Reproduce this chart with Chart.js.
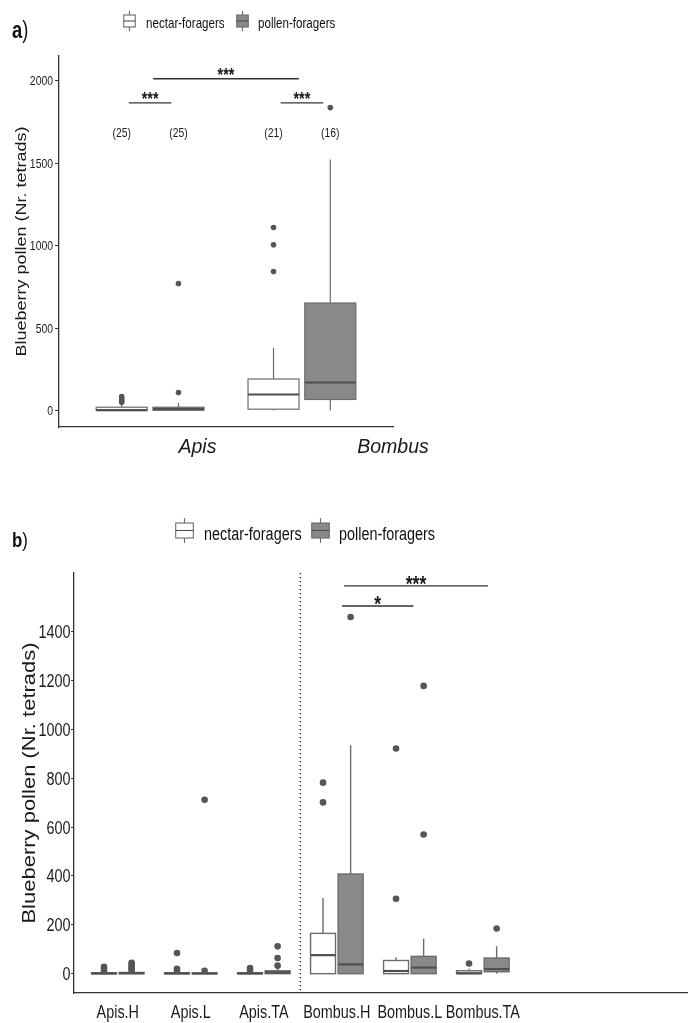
<!DOCTYPE html>
<html>
<head>
<meta charset="utf-8">
<script src="https://cdn.jsdelivr.net/npm/chart.js@4.4.1/dist/chart.umd.min.js"></script>
<style>
  body { margin: 0; background: #fff; width: 688px; height: 1023px; overflow: hidden; position: relative; }
  canvas { display: block; position: absolute; left: 0; }
</style>
</head>
<body>
<canvas id="chartA" width="688" height="470" style="top:0"></canvas>
<canvas id="chartB" width="688" height="553" style="top:470px"></canvas>
<script>
const SANS = "'Liberation Sans', Arial, Helvetica, sans-serif";
const SQUEEZE = 0.8; // the original's text is horizontally condensed

// ---- panel a data: [whisker low, q1, median, q3, whisker high]
const groupsA = ['Apis', 'Bombus'];
const nectarBoxA = [[0, 0, 2, 20, 38], [0, 8, 97, 191, 379]];
const pollenBoxA = [[0, 2, 8, 20, 45], [0, 67, 170, 652, 1523]];
const nectarOutA = [[50, 60, 72, 85], [843, 1005, 1110]];
const pollenOutA = [[109, 770], [1837]];
const countsA = ['(25)', '(25)', '(21)', '(16)'];
const countLevelA = 1680;
const yTicksA = [0, 500, 1000, 1500, 2000];
const bracketFromA = [0.86, 1.02, 1.86];
const bracketToA = [1.14, 1.98, 2.14];
const bracketLevelA = [1866, 2012, 1866];
const bracketTextA = ['***', '***', '***'];

// ---- panel b data
const groupsB = ['Apis.H', 'Apis.L', 'Apis.TA', 'Bombus.H', 'Bombus.L', 'Bombus.TA'];
const nectarBoxB = [
  [0, 0, 1, 4, 8],
  [0, 0, 1, 4, 8],
  [0, 0, 1, 4, 8],
  [0, 0, 76, 165, 310],
  [0, 0, 11, 54, 67],
  [0, 0, 2, 12, 20]
];
const pollenBoxB = [
  [0, 0, 2, 5, 10],
  [0, 0, 1, 3, 6],
  [0, 0, 5, 12, 25],
  [0, 0, 38, 408, 935],
  [0, 0, 25, 71, 143],
  [0, 8, 19, 64, 112]
];
const nectarOutB = [[12, 20, 28], [12, 20, 85], [15, 23], [701, 782], [307, 922], [42]];
const pollenOutB = [[12, 20, 28, 36, 45], [12, 712], [33, 64, 112], [1460], [570, 1178], [185]];
const yTicksB = [0, 200, 400, 600, 800, 1000, 1200, 1400];
const bracketFromB = [4.07, 4.10];
const bracketToB = [5.05, 6.07];
const bracketLevelB = [1505, 1587];
const bracketTextB = ['*', '***'];

const YTITLE = 'Blueberry pollen (Nr. tetrads)';
const LINE = '#6b6b6b';
const MEDIAN = '#4f4f4f';
const POINT = '#555555';
const POLLEN_FILL = '#898989';
const AXIS = '#333333';

function outlierPoints(outs, off) {
  return outs.flatMap((vals, i) => vals.map(v => ({ x: i + 1 + off, y: v })));
}

// text drawn with a horizontal squeeze, like the condensed labels of the original
function squeezed(ctx, text, x, y, sx, align) {
  ctx.save();
  ctx.translate(x, y);
  ctx.scale(sx, 1);
  ctx.textAlign = align;
  ctx.fillText(text, 0, 0);
  ctx.restore();
}

function boxPlugin(nectar, pollen, dodge, width, lw) {
  return {
    id: 'boxes',
    beforeDatasetsDraw(chart) {
      const { ctx, scales: { x, y } } = chart;
      const half = (x.getPixelForValue(width) - x.getPixelForValue(0)) / 2;
      ctx.save();
      [[nectar, -dodge, '#ffffff'], [pollen, dodge, POLLEN_FILL]].forEach(([boxes, off, fill]) => {
        boxes.forEach((b, i) => {
          const cx = x.getPixelForValue(i + 1 + off);
          const [lo, q1, med, q3, hi] = b.map(v => y.getPixelForValue(v));
          ctx.strokeStyle = LINE;
          ctx.lineWidth = lw;
          ctx.beginPath();
          ctx.moveTo(cx, hi); ctx.lineTo(cx, q3);
          ctx.moveTo(cx, q1); ctx.lineTo(cx, lo);
          ctx.stroke();
          ctx.fillStyle = fill;
          ctx.fillRect(cx - half, q3, 2 * half, q1 - q3);
          ctx.strokeRect(cx - half, q3, 2 * half, q1 - q3);
          ctx.strokeStyle = MEDIAN;
          ctx.lineWidth = 2.2;
          ctx.beginPath();
          ctx.moveTo(cx - half, med); ctx.lineTo(cx + half, med);
          ctx.stroke();
        });
      });
      ctx.restore();
    }
  };
}

function bracketPlugin(from, to, level, text, size, lift) {
  return {
    id: 'brackets',
    afterDatasetsDraw(chart) {
      const { ctx, scales: { x, y } } = chart;
      ctx.save();
      ctx.strokeStyle = AXIS;
      ctx.lineWidth = 1.3;
      ctx.fillStyle = '#1a1a1a';
      ctx.font = 'bold ' + size + 'px ' + SANS;
      ctx.textBaseline = 'alphabetic';
      from.forEach((f, i) => {
        const x1 = x.getPixelForValue(f), x2 = x.getPixelForValue(to[i]);
        const yy = y.getPixelForValue(level[i]);
        ctx.beginPath(); ctx.moveTo(x1, yy); ctx.lineTo(x2, yy); ctx.stroke();
        squeezed(ctx, text[i], (x1 + x2) / 2, yy + lift, SQUEEZE, 'center');
      });
      ctx.restore();
    }
  };
}

// axis labels and title, placed from the chart's own scales
function axisTextPlugin(o) {
  return {
    id: 'axisText',
    afterDraw(chart) {
      const { ctx, chartArea, scales: { x, y } } = chart;
      ctx.save();
      ctx.fillStyle = '#1a1a1a';
      ctx.textBaseline = 'alphabetic';
      ctx.font = o.yTickSize + 'px ' + SANS;
      const cap = o.yTickSize * 0.716;
      y.ticks.forEach(t => {
        squeezed(ctx, String(t.value), chartArea.left - o.tickLen - o.yPad,
          y.getPixelForValue(t.value) + cap / 2, SQUEEZE, 'right');
      });
      ctx.font = (o.xItalic ? 'italic ' : '') + o.xSize + 'px ' + SANS;
      x.ticks.forEach((t, i) => {
        squeezed(ctx, o.xLabels[i], x.getPixelForValue(t.value), o.xBaseline, o.xSqueeze, 'center');
      });
      ctx.font = o.titleSize + 'px ' + SANS;
      ctx.textBaseline = 'middle';
      ctx.translate(o.titleX, (chartArea.top + chartArea.bottom) / 2);
      ctx.rotate(-Math.PI / 2);
      ctx.scale(1, SQUEEZE);
      ctx.textAlign = 'center';
      ctx.fillText(YTITLE, 0, 0);
      ctx.restore();
    }
  };
}

function legendIcon(ctx, cx, w, top, boxTop, boxBot, bottom, fill) {
  ctx.strokeStyle = LINE;
  ctx.lineWidth = 1.1;
  ctx.beginPath();
  ctx.moveTo(cx, top); ctx.lineTo(cx, boxTop);
  ctx.moveTo(cx, boxBot); ctx.lineTo(cx, bottom);
  ctx.stroke();
  ctx.fillStyle = fill;
  ctx.fillRect(cx - w / 2, boxTop, w, boxBot - boxTop);
  ctx.strokeRect(cx - w / 2, boxTop, w, boxBot - boxTop);
  ctx.strokeStyle = MEDIAN;
  ctx.beginPath();
  const mid = (boxTop + boxBot) / 2;
  ctx.moveTo(cx - w / 2, mid); ctx.lineTo(cx + w / 2, mid);
  ctx.stroke();
}

function panelLetter(ctx, letter, x, y, size) {
  ctx.fillStyle = '#111';
  ctx.textBaseline = 'alphabetic';
  ctx.font = 'bold ' + size + 'px ' + SANS;
  squeezed(ctx, letter, x, y, SQUEEZE, 'left');
  const w = ctx.measureText(letter).width * SQUEEZE;
  ctx.font = size + 'px ' + SANS;
  squeezed(ctx, ')', x + w, y, SQUEEZE, 'left');
}

function baseOptions(o) {
  return {
    responsive: false,
    animation: false,
    devicePixelRatio: 1,
    events: [],
    layout: { padding: o.padding, autoPadding: false },
    plugins: { legend: { display: false }, tooltip: { enabled: false } },
    scales: {
      x: {
        type: 'linear',
        min: 0.4,
        max: o.xMax,
        afterBuildTicks: s => { s.ticks = o.xTickPos.map(v => ({ value: v })); },
        afterFit: s => { s.height = o.xHeight; },
        border: { display: true, color: AXIS, width: 1.3 },
        grid: { display: true, drawOnChartArea: false, drawTicks: false },
        ticks: { display: false, autoSkip: false }
      },
      y: {
        type: 'linear',
        min: o.yMin,
        max: o.yMax,
        afterBuildTicks: s => { s.ticks = o.yTicks.map(v => ({ value: v })); },
        afterFit: s => { s.width = o.yWidth; },
        border: { display: true, color: AXIS, width: 1.3 },
        grid: { display: true, drawOnChartArea: false, drawTicks: true, tickLength: o.tickLen, color: AXIS },
        ticks: { display: false, autoSkip: false }
      }
    }
  };
}

function outlierSets(nOut, pOut, dodge, r) {
  return [
    { data: outlierPoints(nOut, -dodge), pointRadius: r, pointBackgroundColor: POINT, pointBorderWidth: 0, showLine: false },
    { data: outlierPoints(pOut, dodge), pointRadius: r, pointBackgroundColor: POINT, pointBorderWidth: 0, showLine: false }
  ];
}

// ---------- panel a
const layoutA = {
  padding: { left: 0, top: 56, right: 295, bottom: 0 },
  xMax: 2.6, xHeight: 43,
  xTickPos: [1.312, 2.6], xLabels: groupsA,
  xSize: 19.5, xItalic: true, xSqueeze: 1, xBaseline: 453,
  yMin: -100, yMax: 2150, yTicks: yTicksA, yWidth: 59,
  tickLen: 4, yPad: 2, yTickSize: 13,
  titleSize: 18, titleX: 22.5
};
new Chart(document.getElementById('chartA'), {
  type: 'scatter',
  data: { datasets: outlierSets(nectarOutA, pollenOutA, 0.187, 2.8) },
  options: baseOptions(layoutA),
  plugins: [
    boxPlugin(nectarBoxA, pollenBoxA, 0.187, 0.336, 1.2),
    bracketPlugin(bracketFromA, bracketToA, bracketLevelA, bracketTextA, 18, 2.5),
    axisTextPlugin(layoutA),
    {
      id: 'decorA',
      afterDraw(chart) {
        const { ctx, scales: { x, y } } = chart;
        ctx.save();
        ctx.fillStyle = '#222';
        ctx.font = '13px ' + SANS;
        ctx.textBaseline = 'middle';
        const cy = y.getPixelForValue(countLevelA);
        groupsA.forEach((g, i) => {
          squeezed(ctx, countsA[2 * i], x.getPixelForValue(i + 1 - 0.187), cy, SQUEEZE, 'center');
          squeezed(ctx, countsA[2 * i + 1], x.getPixelForValue(i + 1 + 0.187), cy, SQUEEZE, 'center');
        });
        legendIcon(ctx, 129.5, 11.5, 11, 15, 27, 31, '#ffffff');
        legendIcon(ctx, 242.5, 11.5, 11, 15, 27, 31, POLLEN_FILL);
        ctx.fillStyle = '#111';
        ctx.font = '14.5px ' + SANS;
        ctx.textBaseline = 'alphabetic';
        squeezed(ctx, 'nectar-foragers', 146, 27.5, SQUEEZE, 'left');
        squeezed(ctx, 'pollen-foragers', 258, 27.5, SQUEEZE, 'left');
        panelLetter(ctx, 'a', 12, 37.5, 23);
        ctx.restore();
      }
    }
  ]
});

// ---------- panel b
const layoutB = {
  padding: { left: 0, top: 103, right: 0, bottom: 0 },
  xMax: 8.81, xHeight: 30,
  xTickPos: [1, 2, 3, 4, 5, 6], xLabels: groupsB,
  xSize: 18, xItalic: false, xSqueeze: SQUEEZE, xBaseline: 548,
  yMin: -79, yMax: 1640, yTicks: yTicksB, yWidth: 74,
  tickLen: 3, yPad: 0.5, yTickSize: 18,
  titleSize: 22, titleX: 30
};
new Chart(document.getElementById('chartB'), {
  type: 'scatter',
  data: { datasets: outlierSets(nectarOutB, pollenOutB, 0.189, 3.3) },
  options: baseOptions(layoutB),
  plugins: [
    boxPlugin(nectarBoxB, pollenBoxB, 0.189, 0.342, 1.4),
    bracketPlugin(bracketFromB, bracketToB, bracketLevelB, bracketTextB, 22, 5.5),
    axisTextPlugin(layoutB),
    {
      id: 'decorB',
      beforeDatasetsDraw(chart) {
        const { ctx, chartArea, scales: { x } } = chart;
        const px = x.getPixelForValue(3.5);
        ctx.save();
        ctx.strokeStyle = '#111';
        ctx.lineWidth = 1.3;
        ctx.setLineDash([1.3, 2.7]);
        ctx.beginPath();
        ctx.moveTo(px, chartArea.top); ctx.lineTo(px, chartArea.bottom);
        ctx.stroke();
        ctx.restore();
      },
      afterDraw(chart) {
        const { ctx } = chart;
        ctx.save();
        legendIcon(ctx, 184.5, 17.6, 48, 53, 68, 73, '#ffffff');
        legendIcon(ctx, 320.5, 17.6, 48, 53, 68, 73, POLLEN_FILL);
        ctx.fillStyle = '#111';
        ctx.font = '18px ' + SANS;
        ctx.textBaseline = 'alphabetic';
        squeezed(ctx, 'nectar-foragers', 204, 69.5, SQUEEZE, 'left');
        squeezed(ctx, 'pollen-foragers', 339, 69.5, SQUEEZE, 'left');
        panelLetter(ctx, 'b', 12, 77, 21);
        ctx.restore();
      }
    }
  ]
});
</script>
</body>
</html>
